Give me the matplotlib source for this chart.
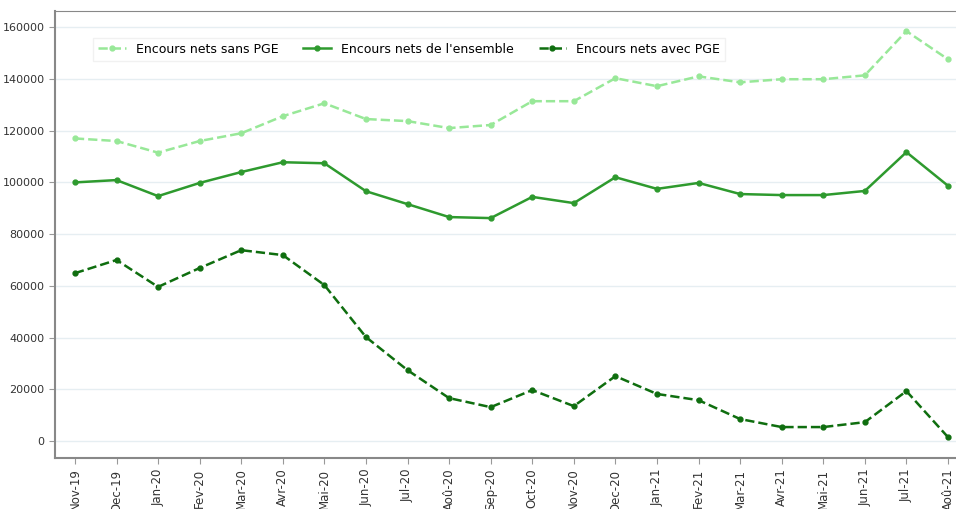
import matplotlib
matplotlib.use("Agg")
import matplotlib.pyplot as plt

mois = ["Nov-19", "Dec-19", "Jan-20", "Fev-20", "Mar-20", "Avr-20", "Mai-20",
        "Jun-20", "Jul-20", "Aoû-20", "Sep-20", "Oct-20", "Nov-20", "Dec-20",
        "Jan-21", "Fev-21", "Mar-21", "Avr-21", "Mai-21", "Jun-21", "Jul-21",
        "Aoû-21"]

sans_pge = [117000, 116000, 111500, 116000, 119000, 125600, 130600, 124500,
            123700, 121000, 122200, 131400, 131400, 140300, 137200, 141000,
            138700, 139900, 139900, 141400, 158500, 147600]

ensemble = [100000, 100900, 94700, 99800, 104000, 107800, 107400, 96600,
            91600, 86600, 86200, 94400, 92000, 102000, 97500, 99800,
            95500, 95100, 95100, 96700, 111700, 98700]

avec_pge = [64900, 70000, 59600, 66900, 73800, 71900, 60300, 40200,
            27400, 16600, 13100, 19700, 13500, 25100, 18200, 15800,
            8500, 5400, 5400, 7300, 19300, 1500]

fig = plt.figure(figsize=(9.56, 5.09), dpi=100)
ax = fig.add_axes([0.0575, 0.1, 0.955, 0.878])

x = range(len(mois))
ax.plot(x, sans_pge, color="#98e898", linestyle="--", linewidth=1.8,
        marker="o", markersize=3.5, label="Encours nets sans PGE")
ax.plot(x, ensemble, color="#2e9a2e", linestyle="-", linewidth=1.8,
        marker="o", markersize=3.5, label="Encours nets de l'ensemble")
ax.plot(x, avec_pge, color="#0f6e0f", linestyle="--", linewidth=1.8,
        marker="o", markersize=3.5, label="Encours nets avec PGE")

ax.set_xticks(list(x))
ax.set_xticklabels(mois, rotation=90, fontsize=8.5, color="#333333")
ax.set_yticks(range(0, 160001, 20000))
ax.tick_params(axis="y", labelsize=8, colors="#333333")
ax.tick_params(axis="both", color="#999999", length=4)
ax.set_xlim(-0.48, 21.48)
ax.set_ylim(-6600, 166200)

ax.yaxis.grid(True, color="#e6eef2", linewidth=1)
ax.set_axisbelow(True)
for side in ["left", "bottom", "top", "right"]:
    ax.spines[side].set_color("#888888")
ax.spines["left"].set_linewidth(1.5)
ax.spines["bottom"].set_linewidth(1.5)

leg = ax.legend(loc="upper left", bbox_to_anchor=(0.035, 0.955), ncol=3,
                fontsize=9, frameon=True, fancybox=False, columnspacing=2.0,
                handlelength=2.2)
leg.get_frame().set_edgecolor("#eeeeee")

fig.savefig("out.png", dpi=100)
